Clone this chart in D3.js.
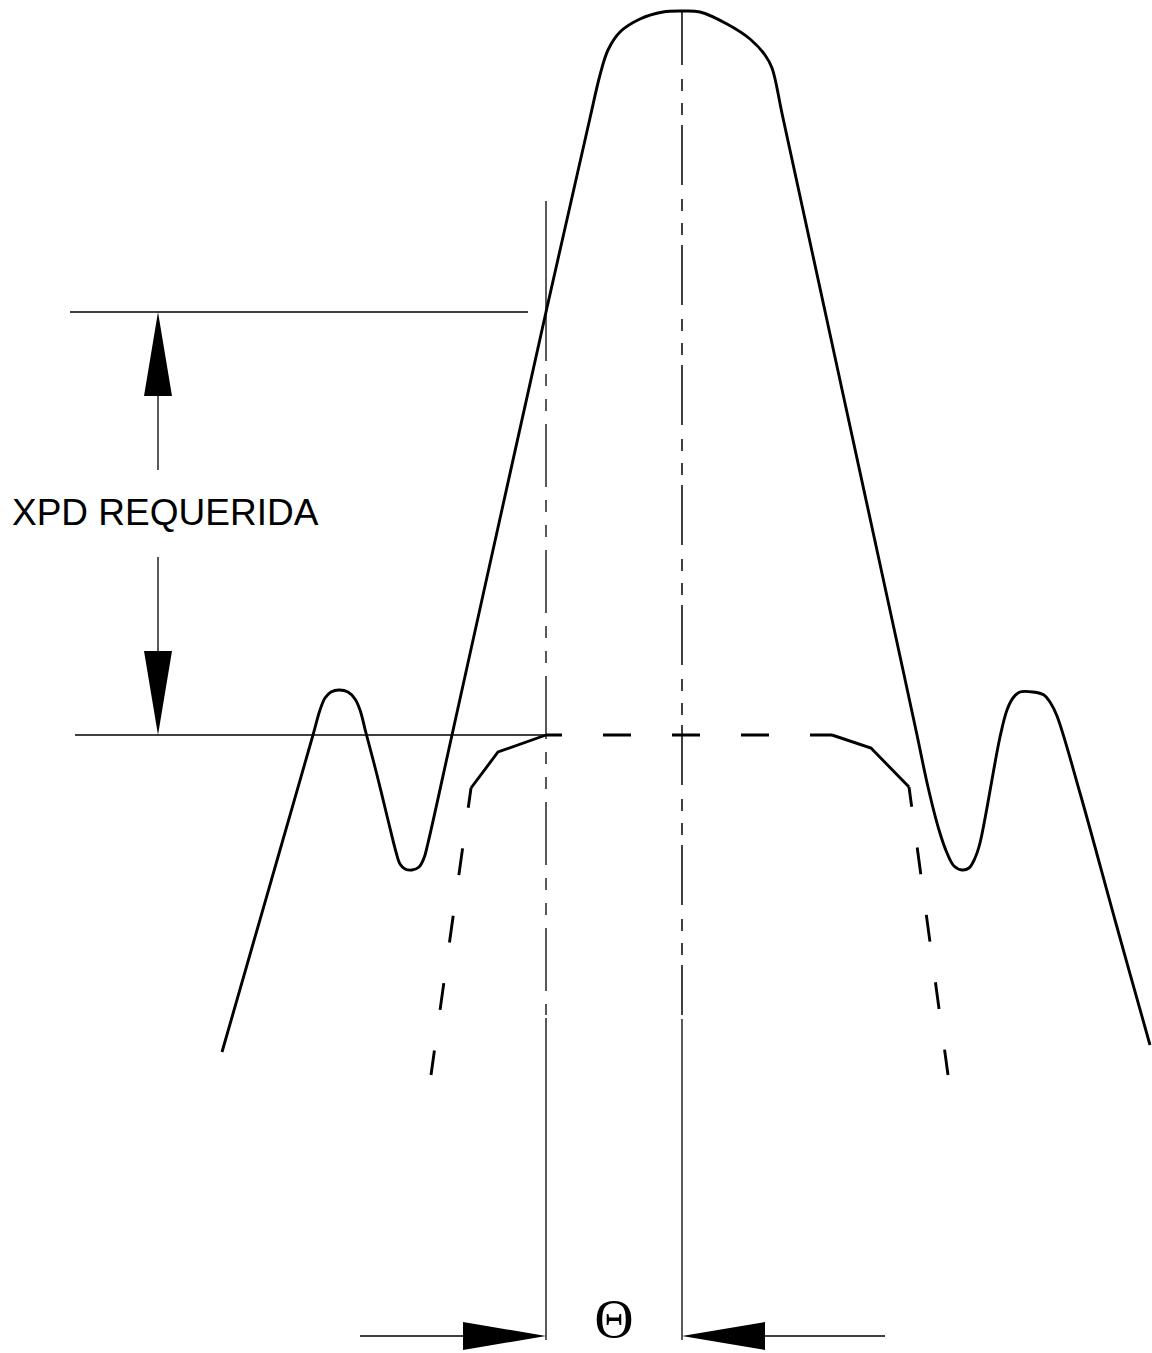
<!DOCTYPE html>
<html>
<head>
<meta charset="utf-8">
<script src="https://cdn.jsdelivr.net/npm/d3@7"></script>
<style>
html,body{margin:0;padding:0;background:#fff;}
svg{display:block;}
</style>
</head>
<body>
<div id="chart"></div>
<script>
// ---- data (angle units, level in dB) ----
const patternAngle = [-46.0,-43.1,-40.2,-36.9,-36.2,-35.7,-35.1,-34.3,-33.4,-32.7,-32.2,-31.6,-30.5,-29.4,-28.6,-28.2,-27.7,-27.0,-26.3,-25.8,-25.4,-23.0,-18.3,-13.6,-11.4,-9.2,-8.2,-7.4,-6.2,-4.2,-1.9,0,1.8,4.5,6.8,8.3,9.0,10.1,16.1,22.1,23.5,24.6,25.7,26.5,27.2,28.0,28.7,29.3,29.8,31.8,32.5,33.1,33.8,35.1,36.2,36.8,37.5,39.8,43.3,46.8];
const patternLevel = [-104.2,-94.1,-84.0,-72.5,-70.0,-68.8,-68.2,-68.0,-68.2,-68.9,-70.0,-72.3,-76.5,-81.0,-84.2,-85.4,-85.9,-86.0,-85.7,-84.8,-83.3,-72.5,-51.3,-30.2,-20.5,-10.8,-6.5,-4.0,-2.2,-0.9,-0.2,-0.1,-0.2,-1.4,-2.9,-4.5,-5.8,-10.8,-38.4,-66.0,-72.5,-77.7,-82.0,-84.3,-85.6,-86.0,-85.8,-84.8,-83.3,-72.7,-70.0,-68.8,-68.2,-68.2,-68.5,-69.2,-70.6,-78.3,-91.0,-103.5];

// mask corners: left slope bottom, left knee, left shoulder, flat start, flat end, right shoulder, right knee, right slope bottom
const maskAngle = [-25.1,-21.1,-18.4,-13.6,15.0,18.9,22.7,26.6];
const maskLevel = [-106.5,-77.8,-74.2,-72.5,-72.5,-73.8,-77.7,-106.5];

const xpdLevels = [-30.2,-72.5];      // top / bottom of required XPD
const thetaAngles = [-13.6, 0];       // Θ offset from boresight
const xpdLabel = "XPD REQUERIDA";
const thetaLabel = "Θ";

// ---- scales ----
const W = 1152, H = 1353;
const x = d3.scaleLinear().domain([-68.2, 47.0]).range([0, W]);
const y = d3.scaleLinear().domain([1, -134.3]).range([0, H]);

const svg = d3.select("#chart").append("svg").attr("width", W).attr("height", H);

const thin = 1.3, thick = 2.9;

function seg(a1, l1, a2, l2, w, dash, off) {
  const s = svg.append("line")
    .attr("x1", x(a1)).attr("y1", y(l1)).attr("x2", x(a2)).attr("y2", y(l2))
    .attr("stroke", "#000").attr("stroke-width", w).attr("fill", "none");
  if (dash) s.attr("stroke-dasharray", dash).attr("stroke-dashoffset", off || 0);
  return s;
}

// ---- reference lines ----
// XPD horizontal lines
seg(-61.2, xpdLevels[0], -15.4, xpdLevels[0], thin);
seg(-60.7, xpdLevels[1], thetaAngles[0], xpdLevels[1], thin);

// Θ edge vertical (left)
seg(thetaAngles[0], -19.1, thetaAngles[0], xpdLevels[0], thin);
seg(thetaAngles[0], xpdLevels[0], thetaAngles[0], -100.5, thin, "63,13,12,13,12,13", 14);
seg(thetaAngles[0], -100.8, thetaAngles[0], -133.0, thin);

// boresight axis (center)
seg(thetaAngles[1], 0, thetaAngles[1], -100.5, 1.5, "60,14,12,12,12,10", 5);
seg(thetaAngles[1], -100.9, thetaAngles[1], -133.0, thin);

// ---- mask (dashed envelope) ----
const lineGen = d3.line().x((d) => x(d[0])).y((d) => y(d[1]));
const mk = maskAngle.map((a, i) => [a, maskLevel[i]]);
seg(mk[1][0], mk[1][1], mk[0][0], mk[0][1], thick, "27,41", 7);
svg.append("path").attr("d", lineGen([mk[1], mk[2], mk[3]]))
  .attr("fill", "none").attr("stroke", "#000").attr("stroke-width", thick).attr("stroke-linejoin", "miter");
seg(mk[3][0], mk[3][1], mk[4][0], mk[4][1], thick, "28,41", 12);
svg.append("path").attr("d", lineGen([mk[4], mk[5], mk[6]]))
  .attr("fill", "none").attr("stroke", "#000").attr("stroke-width", thick).attr("stroke-linejoin", "miter");
seg(mk[6][0], mk[6][1], mk[7][0], mk[7][1], thick, "27,41", 7);

// ---- antenna pattern ----
const pts = patternAngle.map((a, i) => [a, patternLevel[i]]);
svg.append("path")
  .attr("d", d3.line().x((d) => x(d[0])).y((d) => y(d[1])).curve(d3.curveCatmullRom.alpha(0.5))(pts))
  .attr("fill", "none").attr("stroke", "#000").attr("stroke-width", thick)
  .attr("stroke-linejoin", "round").attr("stroke-linecap", "butt");

// ---- XPD dimension (vertical arrows) ----
const dimA = -52.4;
const headLen = 8.4, headHalf = 1.4;
function vArrow(tipLevel, dir) { // dir: +1 arrow points up, -1 points down
  const baseL = tipLevel - dir * headLen;
  const p = [[dimA, tipLevel], [dimA - headHalf, baseL], [dimA + headHalf, baseL]];
  svg.append("path").attr("d", lineGen(p) + "Z").attr("fill", "#000").attr("stroke", "none");
}
vArrow(xpdLevels[0], 1);
vArrow(xpdLevels[1], -1);
seg(dimA, xpdLevels[0] - headLen, dimA, -46.0, thin);
seg(dimA, -54.7, dimA, xpdLevels[1] + headLen, thin);

svg.append("text")
  .attr("x", x(-67.0)).attr("y", y(-51.5))
  .attr("font-family", "'Liberation Sans', Arial, sans-serif")
  .attr("font-size", 37)
  .attr("fill", "#000")
  .text(xpdLabel);

// ---- Θ dimension (horizontal arrows) ----
const dimL = -132.6;
function hArrow(tipAngle, dir) { // dir: +1 points right, -1 points left
  const baseA = tipAngle - dir * 8.3;
  const p = [[tipAngle, dimL], [baseA, dimL + headHalf], [baseA, dimL - headHalf]];
  svg.append("path").attr("d", lineGen(p) + "Z").attr("fill", "#000");
  return baseA;
}
const bL = hArrow(thetaAngles[0], 1);
const bR = hArrow(thetaAngles[1], -1);
seg(-32.2, dimL, bL, dimL, thin);
seg(bR, dimL, 20.3, dimL, thin);

svg.append("text")
  .attr("x", x((thetaAngles[0] + thetaAngles[1]) / 2))
  .attr("y", y(-132.7))
  .attr("text-anchor", "middle")
  .attr("font-family", "'Liberation Serif', 'Times New Roman', serif")
  .attr("font-size", 54)
  .attr("fill", "#000")
  .text(thetaLabel);
</script>
</body>
</html>
